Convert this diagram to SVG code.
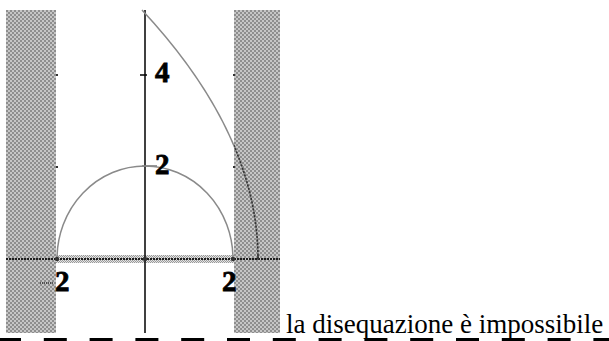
<svg xmlns="http://www.w3.org/2000/svg" width="609" height="341" viewBox="0 0 609 341">
<style>
.txt{font-family:"Liberation Serif","Times New Roman",serif;font-size:27px;fill:#000}
.curve{fill:none;stroke:#8a8a8a;stroke-width:1.5}
</style>
<defs>
<pattern id="chk" patternUnits="userSpaceOnUse" width="4" height="4">
<rect width="4" height="4" fill="#c6c6c6"/>
<rect width="2" height="2" fill="#8e8e8e"/>
<rect x="2" y="2" width="2" height="2" fill="#8e8e8e"/>
</pattern>
<pattern id="band" patternUnits="userSpaceOnUse" width="2" height="2">
<rect width="2" height="2" fill="#e4e4e4"/>
<rect width="1" height="1" fill="#9a9a9a"/>
<rect x="1" y="1" width="1" height="1" fill="#9a9a9a"/>
</pattern>
<clipPath id="rightZone"><rect x="234" y="0" width="50" height="341"/></clipPath>
</defs>
<rect width="609" height="341" fill="#fff"/>
<g id="regions">
<rect x="6" y="10" width="50" height="323" fill="url(#chk)"/>
<rect x="234" y="10" width="46" height="323" fill="url(#chk)"/>
</g>
<g id="axes">
<rect x="56" y="255" width="178" height="8" fill="url(#band)"/>
<line x1="6" y1="259" x2="280" y2="259" stroke="#1e1e1e" stroke-width="2" stroke-dasharray="2 1"/>
<line x1="145" y1="10" x2="145" y2="333" stroke="#000" stroke-width="1.5"/>
<line x1="140" y1="75" x2="147" y2="75" stroke="#000" stroke-width="1.5"/>
<line x1="142" y1="166" x2="157" y2="166" stroke="#555" stroke-width="1.2"/>
<line x1="40" y1="283" x2="54" y2="283" stroke="#333" stroke-width="1.5" stroke-dasharray="1 1"/>
<rect x="56" y="74" width="2" height="2" fill="#333"/>
<rect x="56" y="166" width="2" height="2" fill="#333"/>
<rect x="233" y="74" width="2" height="2" fill="#333"/>
<rect x="233" y="166" width="2" height="2" fill="#333"/>
</g>
<g id="curves">
<path class="curve" d="M57,259 A88,93 0 0 1 233,259"/>
<path class="curve" d="M258,259 Q258,134.5 142,10"/>
<path d="M258,259 Q258,134.5 142,10" fill="none" stroke="#333" stroke-width="1.6" stroke-dasharray="2 1.5" clip-path="url(#rightZone)"/>
<circle cx="57" cy="259" r="2.2" fill="#333"/>
<circle cx="145" cy="259" r="2.2" fill="#333"/>
<circle cx="233" cy="259" r="2.2" fill="#333"/>
<line x1="258" y1="255" x2="258" y2="260" stroke="#333" stroke-width="1.5"/>
</g>
<g id="labels" font-family="'Liberation Serif','Times New Roman',serif" font-weight="bold" font-size="29" fill="#000" stroke="#000" stroke-width="0.8">
<text x="155" y="82">4</text>
<text x="155" y="174">2</text>
<text x="55" y="291">2</text>
<text x="222" y="291">2</text>
</g>
<g id="caption">
<text class="txt" x="286" y="333">la disequazione è impossibile</text>
</g>
<g id="dashes" fill="#000">
<rect x="-2" y="338" width="23" height="3"/>
<rect x="43.8" y="338" width="23" height="3"/>
<rect x="89.6" y="338" width="23" height="3"/>
<rect x="135.4" y="338" width="23" height="3"/>
<rect x="181.2" y="338" width="23" height="3"/>
<rect x="227" y="338" width="23" height="3"/>
<rect x="272.8" y="338" width="23" height="3"/>
<rect x="318.6" y="338" width="23" height="3"/>
<rect x="364.4" y="338" width="23" height="3"/>
<rect x="410.2" y="338" width="23" height="3"/>
<rect x="456" y="338" width="23" height="3"/>
<rect x="501.8" y="338" width="23" height="3"/>
<rect x="547.6" y="338" width="23" height="3"/>
<rect x="593.4" y="338" width="23" height="3"/>
</g>
</svg>
